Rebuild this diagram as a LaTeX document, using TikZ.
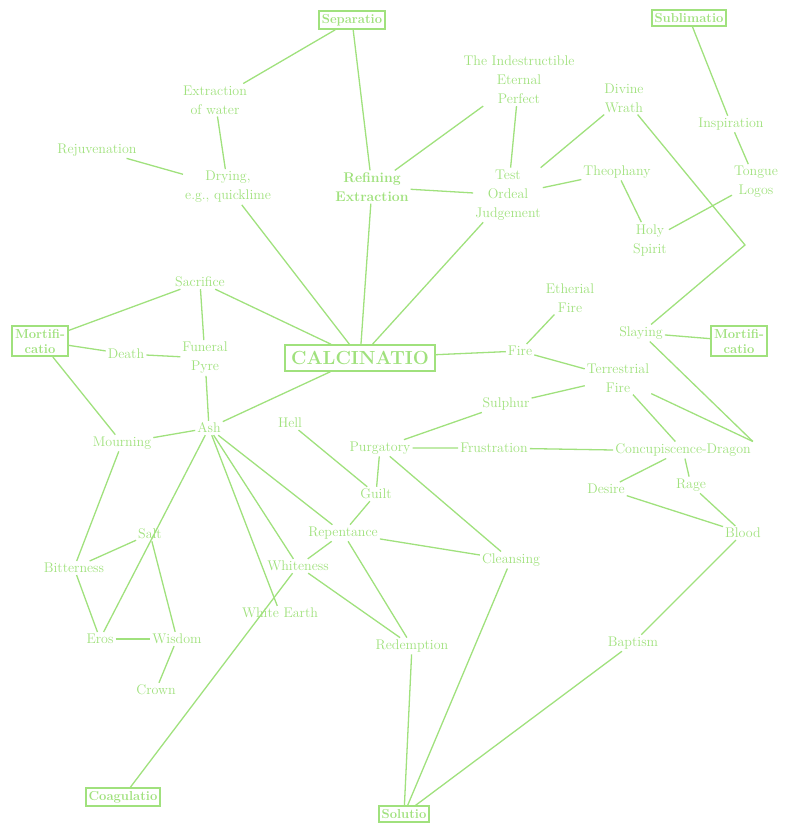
\documentclass[tikz,border=0pt]{standalone}
\usepackage{tikz}
\begin{document}
\begin{tikzpicture}[x=1pt,y=-1pt,
  every node/.style={text=jung,font=\fontsize{14}{19}\selectfont,align=center,inner sep=1.5pt},
  boxed/.style={draw=jung,line width=2pt,font=\bfseries\fontsize{13}{15}\selectfont,inner sep=3pt},
  every path/.style={draw=jung,line width=1.3pt}]
  \definecolor{jung}{RGB}{160,225,125}
  \useasboundingbox[draw=none] (0,0) rectangle (785,839);
  % boxes
  \node[boxed] (sep) at (352,20) {Separatio};
  \node[boxed] (sub) at (689,18) {Sublimatio};
  \node[boxed] (mortl) at (40,341) {Mortifi-\\catio};
  \node[boxed] (mortr) at (739,341) {Mortifi-\\catio};
  \node[boxed,font=\bfseries\fontsize{19}{20}\selectfont,inner sep=6pt] (calc) at (360,358) {CALCINATIO};
  \node[boxed] (coag) at (123,797) {Coagulatio};
  \node[boxed] (sol) at (404,814) {Solutio};
  % terms
  \node (extr) at (215,100) {Extraction\\of water};
  \node (indes) at (519,80) {The Indestructible\\Eternal\\Perfect};
  \node (wrath) at (624,98) {Divine\\Wrath};
  \node (insp) at (731,124) {Inspiration};
  \node (rejuv) at (97,150) {Rejuvenation};
  \node (dry) at (228,187) {Drying,\\e.g., quicklime};
  \node[font=\bfseries\fontsize{14}{19}\selectfont] (refin) at (372,187) {Refining\\Extraction};
  \node (test) at (508,195) {Test\\Ordeal\\Judgement};
  \node (theo) at (617,172) {Theophany};
  \node (tongue) at (756,182) {Tongue\\Logos};
  \node (holy) at (650,240) {Holy\\Spirit};
  \node (ether) at (570,298) {Etherial\\Fire};
  \node (sacr) at (200,282) {Sacrifice};
  \node (death) at (126,354) {Death};
  \node (pyre) at (205,358) {Funeral\\Pyre};
  \node (fire) at (520,351) {Fire};
  \node (slay) at (641,333) {Slaying};
  \node (terr) at (618,378) {Terrestrial\\Fire};
  \node (sulph) at (506,404) {Sulphur};
  \node (hell) at (290,423) {Hell};
  \node (ash) at (209,428) {Ash};
  \node (mourn) at (122,443) {Mourning};
  \node (purg) at (380,448) {Purgatory};
  \node (frust) at (494,448) {Frustration};
  \node (conc) at (683,450) {Concupiscence-Dragon};
  \node (desire) at (606,489) {Desire};
  \node (rage) at (691,485) {Rage};
  \node (guilt) at (376,494) {Guilt};
  \node (repent) at (343,533) {Repentance};
  \node (salt) at (150,534) {Salt};
  \node (blood) at (743,533) {Blood};
  \node (clean) at (511,560) {Cleansing};
  \node (bitter) at (74,568) {Bitterness};
  \node (white) at (298,566) {Whiteness};
  \node (wearth) at (280,613) {White Earth};
  \node (eros) at (100,639) {Eros};
  \node (wisdom) at (177,639) {Wisdom};
  \node (redem) at (412,646) {Redemption};
  \node (bapt) at (633,643) {Baptism};
  \node (crown) at (156,690) {Crown};
  \coordinate (bend) at (745,245);
  % connections
  \draw (sep) -- (extr);
  \draw (sep) -- (refin);
  \draw (extr) -- (dry);
  \draw (rejuv) -- (dry);
  \draw (dry) -- (calc);
  \draw (refin) -- (calc);
  \draw (refin) -- (indes);
  \draw (refin) -- (test);
  \draw (indes) -- (test);
  \draw (test) -- (calc);
  \draw (test) -- (theo);
  \draw (test) -- (wrath);
  \draw (theo) -- (holy);
  \draw (wrath) -- (bend) -- (slay);
  \draw (holy) -- (tongue);
  \draw (sub) -- (insp) -- (tongue);
  \draw (ether) -- (fire);
  \draw (calc) -- (fire) -- (terr);
  \draw (slay) -- (mortr);
  \draw (slay) -- (conc.north east);
  \draw (terr) -- (sulph) -- (purg);
  \draw (terr) -- (conc);
  \draw (terr) -- (conc.north east);
  \draw (purg) -- (frust) -- (conc.west);
  \draw (conc) -- (desire);
  \draw (conc) -- (rage);
  \draw (desire) -- (blood);
  \draw (rage) -- (blood);
  \draw (blood) -- (bapt) -- (sol);
  \draw (purg) -- (clean);
  \draw (purg) -- (guilt);
  \draw (hell) -- (guilt) -- (repent);
  \draw (repent) -- (clean);
  \draw (repent) -- (redem);
  \draw (repent) -- (white);
  \draw (clean) -- (sol);
  \draw (redem) -- (sol);
  \draw (white) -- (redem);
  \draw (white) -- (coag);
  \draw (ash) -- (calc);
  \draw (pyre) -- (ash);
  \draw (ash) -- (repent);
  \draw (ash) -- (white);
  \draw (ash) -- (wearth);
  \draw (ash) -- (eros);
  \draw (ash) -- (mourn);
  \draw (sacr) -- (mortl);
  \draw (sacr) -- (pyre);
  \draw (sacr) -- (calc);
  \draw (mortl) -- (death) -- (pyre);
  \draw (mortl) -- (mourn);
  \draw (mourn) -- (bitter);
  \draw (bitter) -- (salt);
  \draw (bitter) -- (eros);
  \draw (salt) -- (wisdom);
  \draw (eros) -- (wisdom);
  \draw (wisdom) -- (crown);
\end{tikzpicture}
\end{document}
